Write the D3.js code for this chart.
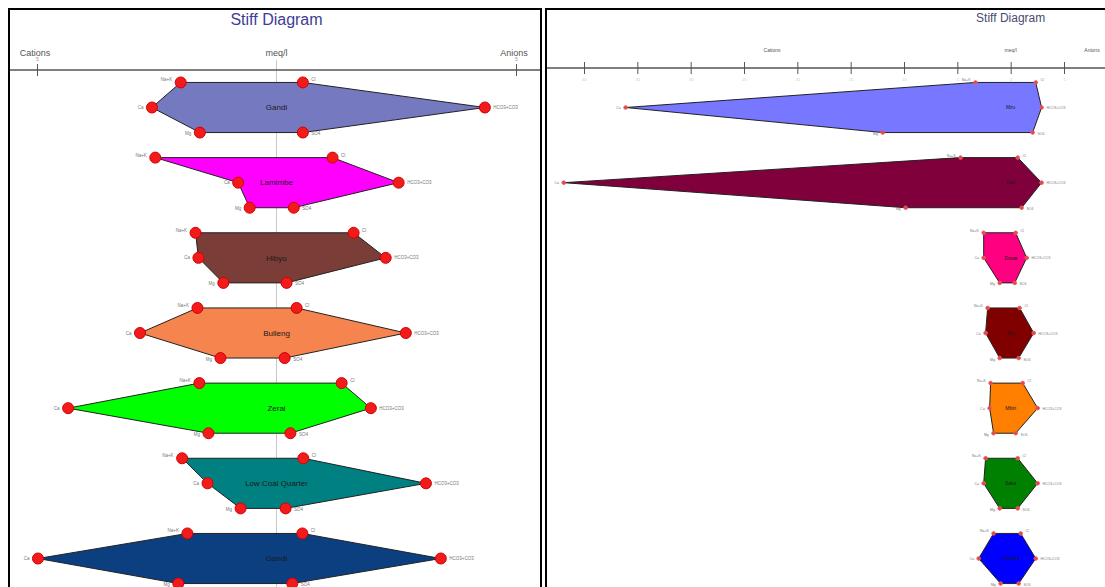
<!DOCTYPE html>
<html>
<head>
<meta charset="utf-8">
<script src="https://cdn.jsdelivr.net/npm/d3@7"></script>
<style>
  html, body { margin: 0; padding: 0; background: #fff; }
  svg { display: block; font-family: "Liberation Sans", Arial, sans-serif; }
</style>
</head>
<body>
<svg id="chart" width="1105" height="587"></svg>
<script>
// Ion order around each Stiff polygon
const ions = ["Na+K", "Ca", "Mg", "Cl", "HCO3+CO3", "SO4"];

// Panel A — sites and concentrations (meq/l)
const sitesA  = ["Gandi", "Lamimbe", "Hibyo", "Bulleng", "Zerai", "Low Coal Quarter", "Gandi"];
const naKA    = [2.00, 2.53, 1.69, 1.65, 1.61, 1.97, 1.86];
const caA     = [2.60, 0.80, 1.63, 2.85, 4.35, 1.44, 4.98];
const mgA     = [1.60, 0.56, 1.11, 1.17, 1.42, 0.75, 2.05];
const clA     = [0.55, 1.17, 1.61, 0.42, 1.36, 0.56, 0.54];
const hco3A   = [4.35, 2.55, 2.28, 2.70, 1.97, 3.12, 3.43];
const so4A    = [0.55, 0.36, 0.21, 0.17, 0.29, 0.19, 0.33];
const colorsA = ["#7579c0", "#ff00ff", "#7a3d38", "#f5844e", "#00ff00", "#008080", "#0c3f80"];
const ticksA  = [-5, 5];

// Panel B — sites and concentrations (meq/l)
const sitesB  = ["Mzu", "Kau", "Dowa", "Nsi", "Mbiri", "Saka", "Chiweta"];
const naKB    = [3.30, 4.70, 2.53, 2.16, 1.88, 2.35, 1.60];
const caB     = [36.1, 41.9, 2.53, 2.35, 1.97, 2.53, 3.00];
const mgB     = [12.0, 9.85, 1.03, 1.03, 1.60, 1.03, 0.94];
const clB     = [2.35, 0.66, 0.47, 0.84, 1.13, 0.66, 0.94];
const hco3B   = [2.90, 2.90, 1.50, 2.16, 2.53, 2.53, 2.35];
const so4B    = [2.06, 1.03, 0.38, 0.75, 0.47, 0.66, 0.75];
const colorsB = ["#7777ff", "#80003c", "#ff0080", "#800000", "#ff8000", "#008000", "#0000ff"];
const ticksB  = [-40, -35, -30, -25, -20, -15, -10, -5, 0, 5];

const svg = d3.select("#chart");

// Rows: index + level offset (-1 top row of ions, 0 middle, +1 bottom)
const y = d3.scaleLinear().domain([0, 6]).range([107.5, 558.5]);
const rowY = (i, lev) => y(i + lev / 3);

function buildSamples(sites, naK, ca, mg, cl, hco3, so4, colors) {
  return sites.map((s, i) => ({
    name: s, color: colors[i], row: i,
    pts: [
      { ion: ions[0], v: -naK[i], lev: -1 },
      { ion: ions[3], v:  cl[i],  lev: -1 },
      { ion: ions[4], v:  hco3[i], lev: 0 },
      { ion: ions[5], v:  so4[i], lev: 1 },
      { ion: ions[2], v: -mg[i],  lev: 1 },
      { ion: ions[1], v: -ca[i],  lev: 0 }
    ]
  }));
}

function drawPanel(cfg) {
  const g = svg.append("g");
  const x = d3.scaleLinear().domain(cfg.domain).range(cfg.range);

  // frame
  g.append("rect")
    .attr("x", cfg.frame[0]).attr("y", 9)
    .attr("width", cfg.frame[1] - cfg.frame[0]).attr("height", 620)
    .attr("fill", "none").attr("stroke", "#000").attr("stroke-width", 2);

  // title
  g.append("text")
    .attr("x", x(0)).attr("y", cfg.titleY)
    .attr("text-anchor", "middle")
    .attr("font-size", cfg.titleSize)
    .attr("font-family", cfg.titleFont)
    .attr("fill", cfg.titleColor)
    .text("Stiff Diagram");

  // centre line
  if (cfg.centerLine) {
    g.append("line")
      .attr("x1", x(0)).attr("x2", x(0))
      .attr("y1", cfg.axisY - 10).attr("y2", 587)
      .attr("stroke", "#c8c8c8").attr("stroke-width", 1);
  }

  // axis
  g.append("line")
    .attr("x1", cfg.frame[0] + 1).attr("x2", cfg.frame[1] - 1)
    .attr("y1", cfg.axisY).attr("y2", cfg.axisY)
    .attr("stroke", "#555").attr("stroke-width", 1.5);

  const axis = d3.axisBottom(x).tickValues(cfg.ticks).tickSize(6)
    .tickFormat(d => Math.abs(d));
  const ag = g.append("g").attr("transform", `translate(0,${cfg.axisY})`).call(axis);
  ag.select(".domain").remove();
  ag.selectAll(".tick line").attr("y1", -6).attr("y2", 6).attr("stroke", "#555");
  ag.selectAll(".tick text")
    .attr("y", cfg.tickLabelY).attr("dy", 0)
    .attr("font-size", cfg.tickFont).attr("fill", cfg.tickColor);

  // axis captions
  const cap = g.append("g").attr("font-size", cfg.capSize).attr("fill", "#555")
    .attr("font-family", cfg.capFont).attr("text-anchor", "middle");
  cap.append("text").attr("x", cfg.capX[0]).attr("y", cfg.capY).text("Cations");
  cap.append("text").attr("x", x(0)).attr("y", cfg.capY).text("meq/l");
  cap.append("text").attr("x", cfg.capX[1]).attr("y", cfg.capY).text("Anions");

  // polygons
  const line = d3.line().x(d => x(d.v)).y(d => d.y);
  cfg.samples.forEach(s => {
    const pts = s.pts.map(p => ({ ...p, y: rowY(s.row, p.lev) }));
    const sg = g.append("g");
    sg.append("path")
      .attr("d", line(pts) + "Z")
      .attr("fill", s.color)
      .attr("stroke", "#222").attr("stroke-width", 1);

    sg.append("text")
      .attr("x", x(0)).attr("y", rowY(s.row, 0) + cfg.nameSize * 0.35)
      .attr("text-anchor", "middle")
      .attr("font-size", cfg.nameSize).attr("fill", "#1a1a1a")
      .text(s.name);

    pts.forEach(p => {
      sg.append("circle")
        .attr("cx", x(p.v)).attr("cy", p.y).attr("r", cfg.markR)
        .attr("fill", cfg.markFill).attr("stroke", cfg.markStroke).attr("stroke-width", 1);
      const left = p.v < 0;
      sg.append("text")
        .attr("x", x(p.v) + (left ? -cfg.markR - 3 : cfg.markR + 3))
        .attr("y", p.y + (p.lev === 1 ? 2.5 : (p.lev === -1 ? -1 : 1.5)))
        .attr("text-anchor", left ? "end" : "start")
        .attr("font-size", cfg.ionSize).attr("fill", "#777")
        .text(p.ion);
    });
  });
}

drawPanel({
  domain: [-5, 5], range: [37, 516], frame: [9, 541],
  titleY: 25, titleSize: 16, titleColor: "#3d3d95", titleFont: "Liberation Sans, Arial, sans-serif",
  axisY: 70, ticks: ticksA, tickLabelY: -9, tickFont: 5, tickColor: "#999",
  capY: 56, capSize: 9, capX: [35, 514], capFont: "Liberation Sans, Arial, sans-serif",
  centerLine: true, markR: 5.5, ionSize: 4.5, nameSize: 8,
  markFill: "#f21b1b", markStroke: "#d40000",
  samples: buildSamples(sitesA, naKA, caA, mgA, clA, hco3A, so4A, colorsA)
});

drawPanel({
  domain: [-40, 5], range: [584, 1064], frame: [546, 1112],
  titleY: 22, titleSize: 12, titleColor: "#4a4a70", titleFont: "Liberation Sans Narrow, Arial Narrow, sans-serif",
  axisY: 68, ticks: ticksB, tickLabelY: 13, tickFont: 4, tickColor: "#ccc",
  capY: 52, capSize: 5, capX: [772, 1092], capFont: "Liberation Sans, Arial, sans-serif",
  centerLine: false, markR: 1.8, ionSize: 3.5, nameSize: 5,
  markFill: "#f04040", markStroke: "#e06060",
  samples: buildSamples(sitesB, naKB, caB, mgB, clB, hco3B, so4B, colorsB)
});
</script>
</body>
</html>
